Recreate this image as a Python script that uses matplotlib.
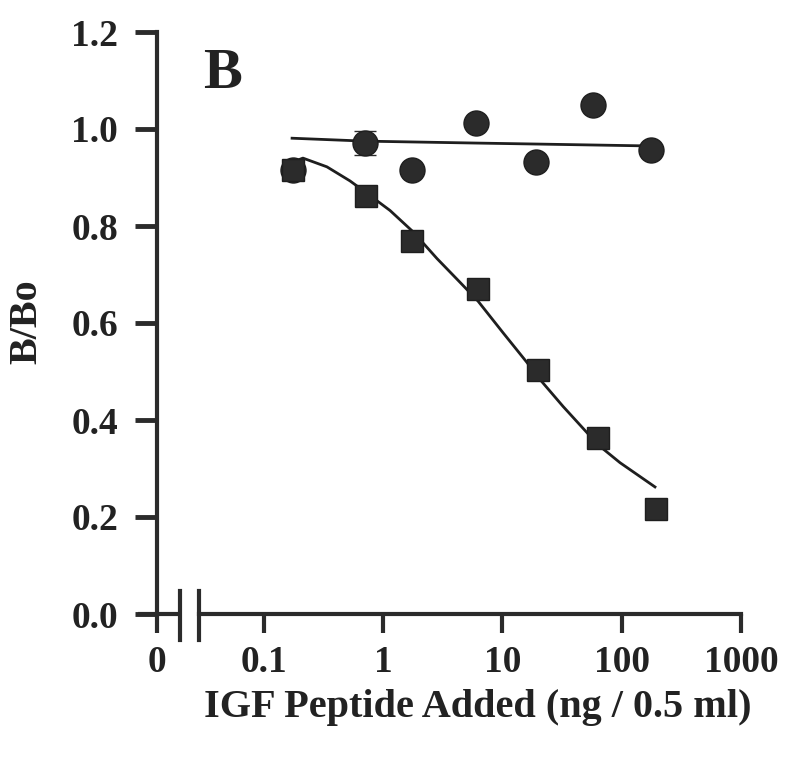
import numpy as np
import matplotlib.pyplot as plt
from matplotlib.ticker import FixedLocator, NullLocator

plt.rcParams['font.family'] = ['Liberation Serif', 'DejaVu Serif']
plt.rcParams['font.weight'] = 'bold'

# data (ng / 0.5 ml vs B/Bo)
sq_x = [0.175, 0.716, 1.74, 6.24, 19.9, 63.2, 194]
sq_y = [0.915, 0.862, 0.769, 0.670, 0.503, 0.363, 0.216]

circ_x = [0.175, 0.70, 1.74, 6.0, 19.1, 57.4, 176]
circ_y = [0.915, 0.971, 0.915, 1.012, 0.932, 1.049, 0.957]
circ_err = [0, 0.024, 0, 0, 0, 0, 0]

# fitted curves
fit_sq_x = [0.175, 0.212, 0.337, 0.526, 0.716, 1.14, 1.78, 2.82, 4.40, 6.24,
            10.1, 16.0, 19.9, 32.2, 51.1, 63.2, 96.7, 190]
fit_sq_y = [0.932, 0.940, 0.922, 0.893, 0.869, 0.832, 0.788, 0.733, 0.684, 0.645,
            0.580, 0.519, 0.488, 0.428, 0.374, 0.349, 0.312, 0.262]
fit_circ_x = [0.172, 0.70, 6.0, 19.0, 176]
fit_circ_y = [0.981, 0.975, 0.971, 0.969, 0.965]

xticks = [0.01267, 0.1, 1, 10, 100, 1000]
xtick_labels = ['0', '0.1', '1', '10', '100', '1000']
yticks = [0.0, 0.2, 0.4, 0.6, 0.8, 1.0, 1.2]

W, H = 786, 762
fig = plt.figure(figsize=(W / 100, H / 100), dpi=100)
ax = fig.add_axes([157 / W, 1 - 614 / H, (750 - 157) / W, (614 - 32) / H])

ink = '#2b2b2b'
ax.plot(fit_circ_x, fit_circ_y, color='#1e1e1e', lw=2, zorder=2)
ax.plot(fit_sq_x, fit_sq_y, color='#1e1e1e', lw=2, zorder=2)
ax.errorbar(circ_x, circ_y, yerr=circ_err, fmt='o', ms=18, color=ink,
            mec='#1e1e1e', mew=1, ecolor=ink, elinewidth=3, capsize=8,
            capthick=3.5, zorder=3)
ax.plot(sq_x, sq_y, 's', ms=16, color=ink, mec='#1e1e1e', mew=1, zorder=4)

ax.set_xscale('log')
ax.set_xlim(0.01267, 1190)
ax.set_ylim(0, 1.2)

for s in ['top', 'right']:
    ax.spines[s].set_visible(False)
for s in ['left', 'bottom']:
    ax.spines[s].set_linewidth(3)
    ax.spines[s].set_color(ink)
ax.spines['left'].set_bounds(0, 1.2)
ax.spines['bottom'].set_bounds(0.0285, 1000)

ax.xaxis.set_major_locator(FixedLocator(xticks))
ax.xaxis.set_minor_locator(NullLocator())
ax.set_xticklabels(xtick_labels)
ax.set_yticks(yticks)
ax.set_yticklabels(['%.1f' % v for v in yticks])
ax.tick_params(axis='x', direction='out', length=14, width=3, color=ink,
               labelsize=27, pad=8, labelcolor='#222222')
ax.tick_params(axis='y', direction='out', length=16, width=3.5, color=ink,
               labelsize=27, pad=12, labelcolor='#222222')

# axis break: stub at zero plus two break marks
ax.plot([0.00877, 0.01977], [0, 0], color=ink, lw=3, clip_on=False,
        solid_capstyle='butt')
for bx in [0.01977, 0.0285]:
    ax.plot([bx, bx], [-0.054, 0.047], color=ink, lw=3, clip_on=False)

fig.text(203 / W, 1 - 88 / H, 'B', fontsize=42, fontweight='bold',
         ha='left', va='baseline', color='#222222')
fig.text(478 / W, 1 - 707 / H, 'IGF Peptide Added (ng / 0.5 ml)', fontsize=29,
         fontweight='bold', ha='center', va='center', color='#222222')
fig.text(27 / W, 1 - 322 / H, 'B/Bo', fontsize=29, fontweight='bold',
         rotation=90, ha='center', va='center', color='#222222')

fig.savefig('out.png', dpi=100)
